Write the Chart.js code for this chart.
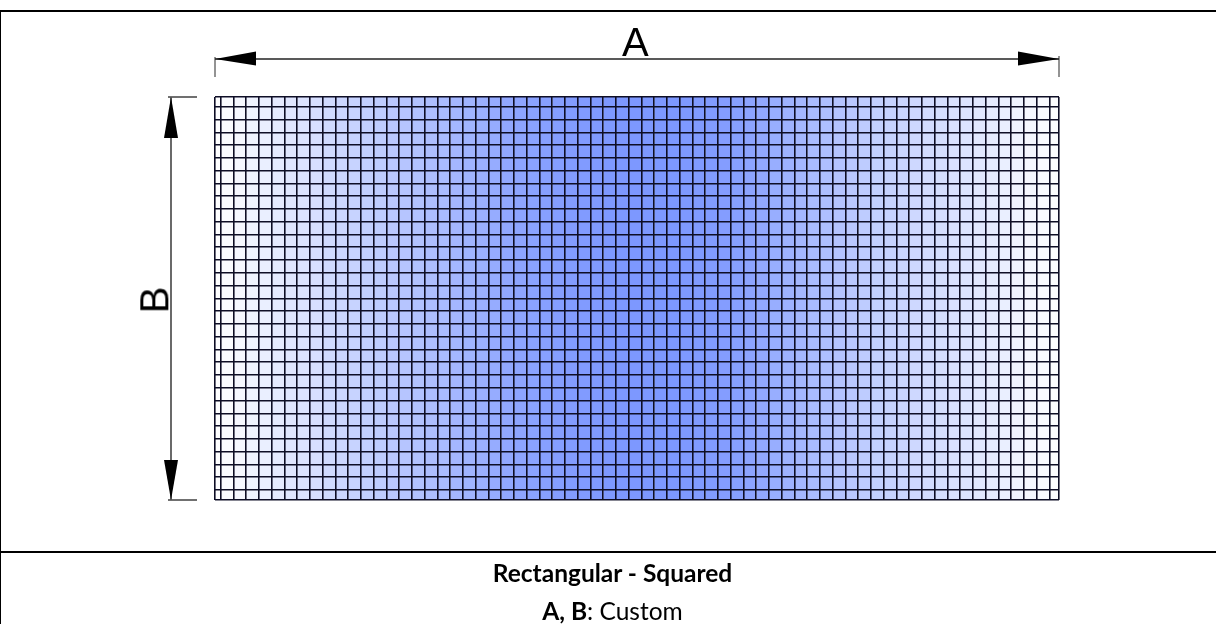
<!DOCTYPE html>
<html>
<head>
<meta charset="utf-8">
<title>Rectangular - Squared</title>
<script src="https://cdn.jsdelivr.net/npm/chart.js@4/dist/chart.umd.min.js"></script>
<style>
    html, body { margin: 0; padding: 0; background: #fff; }
    body { width: 1216px; height: 624px; position: relative; overflow: hidden; }
    canvas { position: absolute; left: 0; top: 0; }
    .rule { position: absolute; background: #000; }
    .dim { position: absolute; font-family: "Liberation Sans", Arial, sans-serif; font-size: 40px; line-height: 40px; color: #000; }
    .caption { position: absolute; left: 0; width: 1225px; text-align: center; font-family: Lato, "Open Sans", sans-serif; font-size: 24.5px; line-height: 26px; color: #000; }
</style>
</head>
<body>
<canvas id="meshChart" width="1216" height="624"></canvas>
<div class="rule" style="left:0;top:10px;width:1216px;height:2px"></div>
<div class="rule" style="left:0;top:551px;width:1216px;height:2px"></div>
<div class="rule" style="left:0;top:11px;width:1px;height:613px"></div>
<div class="dim" style="left:622px;top:22px">A</div>
<div class="dim" style="left:141px;top:280px;transform:rotate(-90deg)">B</div>
<div class="caption" style="top:560px"><b>Rectangular - Squared</b></div>
<div class="caption" style="top:598px"><b>A, B</b>: Custom</div>
<script>
// Mesh lines (A runs 0-844, B runs 0-403)
const columnLines = [5.7, 18.5, 31.2, 44, 56.7, 69.5, 82.2, 95, 107.7, 120.5, 133.2, 146, 158.7, 171.5, 184.2, 197,
    209.7, 222.5, 235.2, 248, 260.7, 273.5, 286.2, 299, 311.7, 324.5, 337.2, 350, 362.7, 375.5, 388.2, 401,
    413.7, 426.5, 439.2, 452, 464.7, 477.5, 490.2, 503, 515.7, 528.5, 541.2, 554, 566.7, 579.5, 592.2, 605,
    617.7, 630.5, 643.2, 656, 668.7, 681.5, 694.2, 707, 719.7, 732.5, 745.2, 758, 770.7, 783.5, 796.2, 809,
    821.7, 834.5];
const rowLines = [9.7, 22.5, 35.3, 48, 60.8, 73.6, 86.4, 99.1, 111.9, 124.7, 137.4, 150.2, 163, 175.8, 188.5, 201.3,
    214.1, 226.9, 239.6, 252.4, 265.2, 278, 290.7, 303.5, 316.3, 329, 341.8, 354.6, 367.4, 380.1, 392.9];

// Blue strength of each column, 0 = white, 100 = deepest
const columnShade = [1, 4, 8, 12, 16, 20, 24, 27, 31, 36, 40, 43, 47, 50, 53, 56, 59, 63, 66, 70, 73, 77, 81, 85, 88,
    90, 92, 94, 96, 97, 98, 99, 100, 100, 100, 100, 100, 99, 98, 97, 95, 92, 88, 84, 79, 75, 70, 66, 62, 58, 54, 50,
    46, 44, 41, 38, 35, 32, 29, 26, 23, 19, 16, 12, 8, 5, 2];

const rangeA = 844;
const rangeB = 403;
const meshLine = '#0e0e26';
const darkLine = '#222222';
const sideLine = '#5a5a5a';

function shadeColor(shade) {
    const r = Math.round(255 - shade * 1.3);
    const g = Math.round(255 - shade * 1.03);
    return `rgb(${r}, ${g}, 255)`;
}

function makeColumns() {
    const edges = [0, ...columnLines, rangeA];
    return columnShade.map((shade, i) => ({
        data: [{ x: edges[i], y: 0 }, { x: edges[i + 1], y: 0 }],
        showLine: true,
        borderWidth: 0,
        pointRadius: 0,
        backgroundColor: shadeColor(shade),
        fill: { value: rangeB }
    }));
}

function makeDimLine(line) {
    return {
        data: line.points,
        showLine: true,
        clip: false,
        borderColor: line.color,
        borderWidth: line.width,
        pointRadius: 0,
        fill: false
    };
}

// The two dimension lines with their end marks, in the same units as the mesh
const dimLines = [
    { points: [{ x: 0, y: -38 }, { x: rangeA, y: -38 }], color: darkLine, width: 1.4 },
    { points: [{ x: 0, y: -40 }, { x: 0, y: -20 }], color: sideLine, width: 1.3 },
    { points: [{ x: rangeA, y: -41 }, { x: rangeA, y: -20 }], color: sideLine, width: 1.3 },
    { points: [{ x: -44, y: 0 }, { x: -44, y: rangeB }], color: sideLine, width: 1.8 },
    { points: [{ x: -47, y: 0 }, { x: -18, y: 0 }], color: darkLine, width: 1.3 },
    { points: [{ x: -47, y: rangeB }, { x: -18, y: rangeB }], color: darkLine, width: 1.3 }
];

const arrowHeads = [
    [[0, -38], [41, -45.5], [41, -31.5]],
    [[rangeA, -38], [rangeA - 41, -45.5], [rangeA - 41, -31.5]],
    [[-44, 0], [-51, 41], [-37, 41]],
    [[-44, rangeB], [-51, rangeB - 40], [-37, rangeB - 40]]
];

const arrowHeadPlugin = {
    id: 'arrowHeads',
    afterDraw(chart) {
        const { ctx, scales } = chart;
        ctx.save();
        ctx.fillStyle = '#000';
        arrowHeads.forEach(head => {
            ctx.beginPath();
            head.forEach(([a, b], i) => {
                const px = scales.x.getPixelForValue(a);
                const py = scales.y.getPixelForValue(b);
                if (i === 0) ctx.moveTo(px, py); else ctx.lineTo(px, py);
            });
            ctx.closePath();
            ctx.fill();
        });
        ctx.restore();
    }
};

new Chart(document.getElementById('meshChart'), {
    type: 'scatter',
    data: { datasets: [...makeColumns(), ...dimLines.map(makeDimLine)] },
    options: {
        responsive: false,
        devicePixelRatio: 1,
        animation: false,
        layout: { padding: { left: 215, right: 157, top: 97, bottom: 124 } },
        plugins: { legend: { display: false }, title: { display: false }, tooltip: { enabled: false } },
        scales: {
            x: {
                type: 'linear',
                min: 0,
                max: rangeA,
                afterBuildTicks(axis) {
                    axis.ticks = [0, ...columnLines, rangeA].map(value => ({ value }));
                },
                ticks: { display: false },
                border: { display: false },
                grid: { color: meshLine, lineWidth: 1.6, drawTicks: false, z: 1 }
            },
            y: {
                type: 'linear',
                reverse: true,
                min: 0,
                max: rangeB,
                afterBuildTicks(axis) {
                    axis.ticks = [0, ...rowLines, rangeB].map(value => ({ value }));
                },
                ticks: { display: false },
                border: { display: false },
                grid: { color: meshLine, lineWidth: 1.6, drawTicks: false, z: 1 }
            }
        }
    },
    plugins: [arrowHeadPlugin]
});
</script>
</body>
</html>
